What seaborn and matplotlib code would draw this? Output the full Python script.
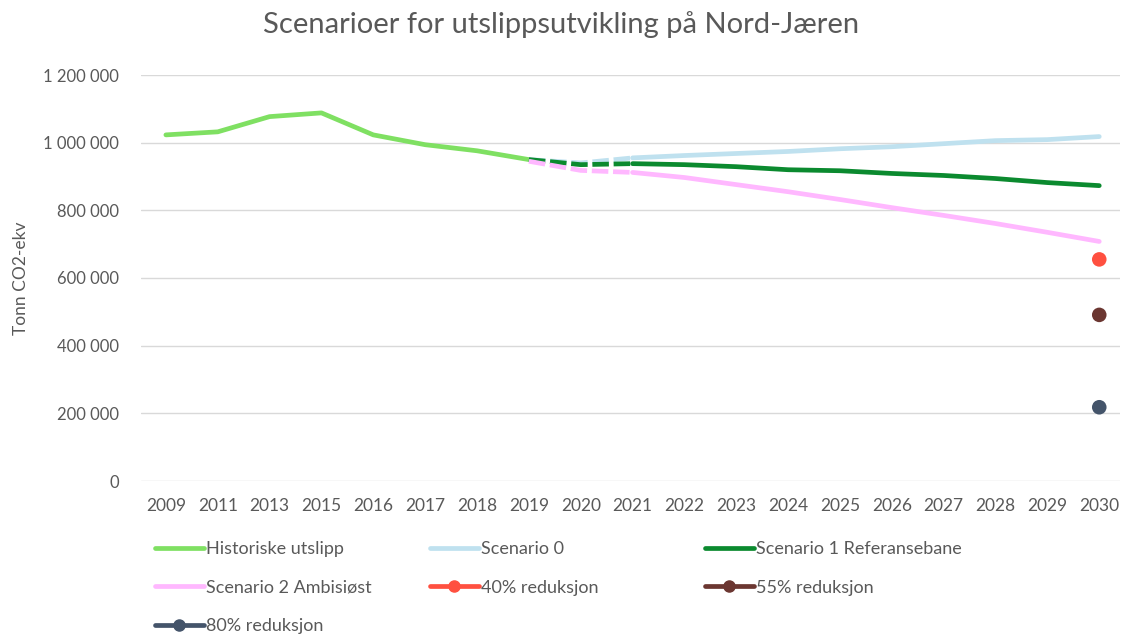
import matplotlib
matplotlib.use("Agg")
import matplotlib.pyplot as plt
from matplotlib.lines import Line2D
from matplotlib.ticker import FuncFormatter
import seaborn as sns
import pandas as pd

years = ["2009", "2011", "2013", "2015", "2016", "2017", "2018", "2019", "2020",
         "2021", "2022", "2023", "2024", "2025", "2026", "2027", "2028", "2029", "2030"]

historiske = [1023000, 1032000, 1077000, 1088000, 1023000, 994000, 976000, 950000]
# scenarios run from 2019 to 2030
scenario0 = [950000, 940000, 955000, 962000, 968000, 974000, 982000, 988000,
             997000, 1006000, 1009000, 1018000]
scenario1 = [950000, 935000, 938000, 935000, 929000, 920000, 917000, 909000,
             903000, 894000, 882000, 873000]
scenario2 = [945000, 918000, 912000, 897000, 876000, 855000, 832000, 808000,
             785000, 761000, 735000, 708000]
red40 = 655000
red55 = 491000
red80 = 218000

c_hist = "#7FE062"
c_s0 = "#BFE1EF"
c_s1 = "#0B8A2F"
c_s2 = "#FFB8FF"
c_40 = "#FF5040"
c_55 = "#6B3631"
c_80 = "#44546A"
grey = "#595959"

sns.set_theme(style="white")
plt.rcParams["font.family"] = ["Lato", "DejaVu Sans"]

fig = plt.figure(figsize=(11.23, 6.42), dpi=100)
ax = fig.add_axes([141 / 1123, (642 - 481) / 642, 979 / 1123, 406 / 642])

idx = list(range(len(years)))
lw = 3.4

df_h = pd.DataFrame({"x": idx[:8], "y": historiske})
sns.lineplot(data=df_h, x="x", y="y", ax=ax, color=c_hist, lw=lw,
             solid_capstyle="round")

for vals, col in [(scenario0, c_s0), (scenario1, c_s1), (scenario2, c_s2)]:
    d = pd.DataFrame({"x": idx[7:], "y": vals})
    # dashed between 2019 and 2021, solid afterwards
    sns.lineplot(data=d.iloc[:3], x="x", y="y", ax=ax, color=col, lw=lw,
                 linestyle=(0, (3.5, 1)))
    sns.lineplot(data=d.iloc[2:], x="x", y="y", ax=ax, color=col, lw=lw,
                 solid_capstyle="round")

for v, col in [(red40, c_40), (red55, c_55), (red80, c_80)]:
    sns.scatterplot(x=[idx[-1]], y=[v], ax=ax, color=col, s=110,
                    edgecolor="none", zorder=5)

ax.set_xlim(-0.48, 18.4)
ax.set_ylim(0, 1200000)
ax.set_yticks(range(0, 1200001, 200000))
ax.yaxis.set_major_formatter(FuncFormatter(lambda v, p: f"{int(v):,}".replace(",", " ")))
ax.set_xticks(idx)
ax.set_xticklabels(years)
ax.grid(axis="y", color="#D9D9D9", lw=1)
ax.set_axisbelow(True)
for s in ax.spines.values():
    s.set_visible(False)
ax.tick_params(axis="x", colors=grey, labelsize=12.5, length=0, pad=12)
ax.tick_params(axis="y", colors=grey, labelsize=12, length=0, pad=16)
ax.set_xlabel("")
ax.set_ylabel("Tonn CO2-ekv", color=grey, fontsize=12.5, labelpad=10)

fig.text(0.5, 0.962, "Scenarioer for utslippsutvikling på Nord-Jæren",
         ha="center", va="center", fontsize=21, color=grey)

def lh(col, marker=False):
    return Line2D([0], [0], color=col, lw=lw, marker="o" if marker else None,
                  markersize=8)

columns = [
    (155, [lh(c_hist), lh(c_s2), lh(c_80, True)],
     ["Historiske utslipp", "Scenario 2 Ambisiøst", "80% reduksjon"]),
    (430, [lh(c_s0), lh(c_40, True)], ["Scenario 0", "40% reduksjon"]),
    (705, [lh(c_s1), lh(c_55, True)], ["Scenario 1 Referansebane", "55% reduksjon"]),
]
for xpx, hs, ls in columns:
    leg = fig.legend(hs, ls, loc="upper left", borderpad=0, borderaxespad=0,
                     bbox_to_anchor=(xpx / 1123, 1 - 541 / 642), frameon=False,
                     fontsize=13, labelcolor=grey, handlelength=2.7,
                     handletextpad=0.1, labelspacing=1.25)

fig.savefig("out.png", dpi=100)
